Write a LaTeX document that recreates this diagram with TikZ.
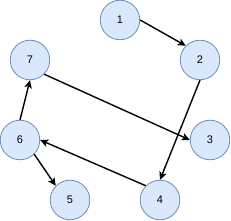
\documentclass[tikz,border=0pt]{standalone}
\usepackage{fontspec}
\setmainfont{Liberation Sans}
\usetikzlibrary{arrows.meta}
\definecolor{nfill}{HTML}{DAE8FC}
\definecolor{nline}{HTML}{6C8EBF}
\begin{document}
\begin{tikzpicture}[x=1pt,y=-1pt,
  vtx/.style={circle,draw=nline,fill=nfill,line width=0.8pt,minimum size=39.5pt,inner sep=0pt,font=\fontsize{11}{13}\selectfont},
  edge/.style={line width=1.4pt,-{Stealth[length=8pt,width=7.5pt,inset=2pt]}}]
\useasboundingbox (0,0) rectangle (231,221);
\node[vtx] (n1) at (120,20) {1};
\node[vtx] (n2) at (200,60) {2};
\node[vtx] (n3) at (210,140) {3};
\node[vtx] (n4) at (160,200) {4};
\node[vtx] (n5) at (70,200) {5};
\node[vtx] (n6) at (20,140) {6};
\node[vtx] (n7) at (30,60) {7};
\draw[edge] (n1.east) -- (n2.north west);
\draw[edge] (n2.south) -- (n4.north);
\draw[edge] (n7.south east) -- (n3.west);
\draw[edge] (n4.north west) -- (n6.east);
\draw[edge] (n6.north) -- (n7.south);
\draw[edge] (n6.south east) -- (n5.north west);
\end{tikzpicture}
\end{document}
